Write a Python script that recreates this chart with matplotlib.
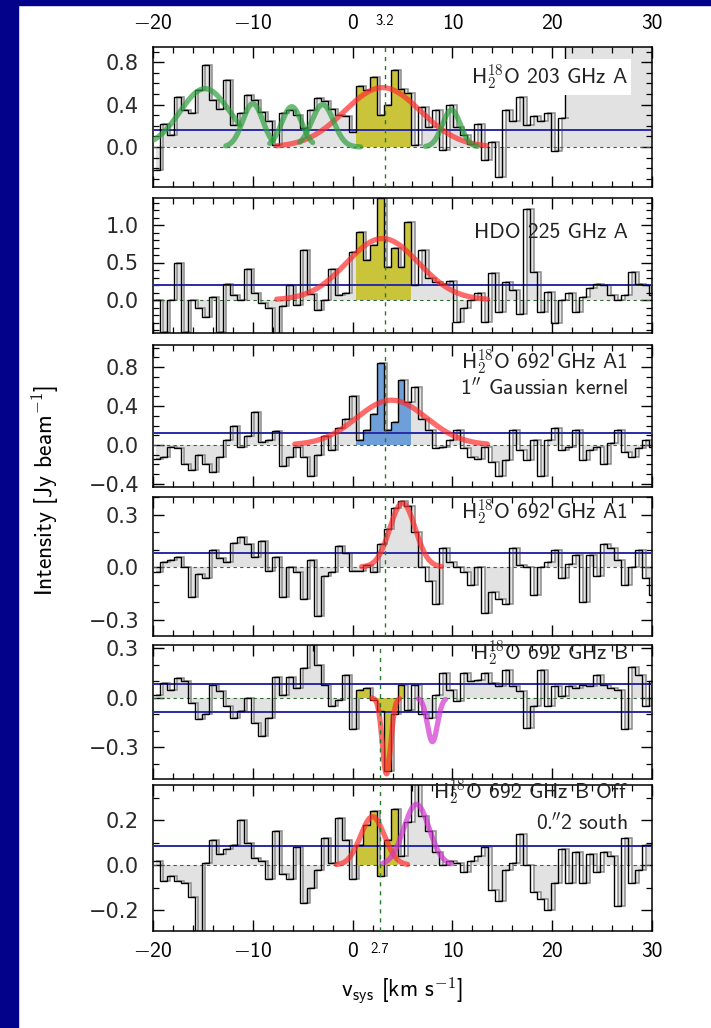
import numpy as np
import matplotlib

matplotlib.use("Agg")
import matplotlib.pyplot as plt
import matplotlib.transforms as mtransforms
from matplotlib.patches import Rectangle
from matplotlib.ticker import MultipleLocator

plt.rcParams["font.family"] = ["cmss10", "DejaVu Sans"]
plt.rcParams["mathtext.fontset"] = "cm"

# ---- spectra (Jy/beam per channel, channels start at -20 km/s) ----
V_START = -20.0
CHAN_WIDTH = 0.7

h2o_203_A = [
    -0.22, 0.22, 0.11, 0.47, 0.35, 0.32, 0.54, 0.77, 0.44, 0.36,
    0.63, 0.21, 0.32, 0.49, 0.44, 0.33, 0.25, 0.02, 0.32, 0.35,
    0.30, 0.18, 0.35, 0.46, 0.43, 0.36, 0.30, 0.29, 0.14, 0.58,
    0.54, 0.66, 0.30, 0.40, 0.73, 0.55, 0.51, 0.02, 0.38, 0.19,
    0.35, -0.03, 0.40, 0.19, 0.11, 0.03, 0.22, -0.12, 0.05, -0.28,
    0.35, 0.25, 0.47, 0.21, 0.29, 0.25, 0.32, -0.04, 0.27,
]
hdo_225_A = [
    0.0, -0.42, 0.0, 0.49, -0.42, 0.0, -0.11, -0.22, 0.04, -0.42,
    0.22, 0.07, 0.0, 0.42, 0.09, -0.04, -0.11, -0.5, -0.08, 0.2,
    -0.07, 0.67, 0.08, -0.13, 0.0, 0.42, 0.07, 0.1, 0.64, 0.91,
    0.53, 0.73, 1.36, 0.44, 0.69, 0.44, 1.04, 0.2, 0.67, 0.3,
    0.24, 0.22, 0.25, -0.29, -0.1, 0.0, 0.09, -0.29, 0.36, -0.16,
    0.24, 0.13, -0.18, 1.22, 0.38, -0.16, 0.11, -0.31, 0.0, 0.09,
    -0.16, 0.04, 0.16, 0.22, 0.2, 0.07, 0.0, 0.07, 0.38, 0.22,
    0.2, 0.07,
]
h2o_692_A1_kernel = [
    -0.14, -0.12, -0.02, -0.03, -0.19, -0.26, -0.1, -0.19, -0.28, -0.12,
    0.05, 0.2, -0.02, 0.09, 0.34, 0.03, 0.05, 0.14, -0.22, -0.12,
    -0.02, -0.12, -0.32, -0.1, 0.09, -0.05, 0.17, 0.27, 0.5, 0.05,
    0.15, 0.32, 0.84, 0.15, 0.24, 0.67, 0.44, 0.6, 0.27, 0.15,
    -0.03, -0.02, 0.05, 0.15, -0.03, -0.12, -0.14, -0.02, -0.17, -0.32,
    -0.15, 0.15, -0.05, -0.15, 0.05, -0.32, 0.05, 0.17, -0.05, -0.02,
    0.15, -0.15, -0.05, -0.02, -0.19, 0.02, 0.15, -0.07, -0.12, -0.03,
    0.05, -0.02,
]
h2o_692_A1 = [
    -0.03, 0.03, 0.04, 0.06, 0.0, -0.17, -0.04, -0.06, 0.1, 0.05,
    0.03, 0.14, 0.17, 0.13, 0.06, 0.15, -0.02, 0.06, -0.17, 0.0,
    -0.03, -0.18, 0.04, -0.28, -0.05, -0.03, 0.12, 0.08, -0.02, -0.02,
    0.01, -0.03, 0.13, 0.22, 0.34, 0.38, 0.35, 0.2, 0.0, -0.08,
    -0.21, 0.11, 0.03, 0.0, -0.03, -0.1, 0.0, -0.26, -0.14, -0.18,
    -0.21, 0.11, 0.01, 0.0, -0.16, 0.0, 0.03, 0.1, -0.06, 0.02,
    0.07, -0.2, 0.07, -0.05, 0.13, 0.11, 0.04, -0.1, 0.0, 0.1,
    -0.06, -0.16,
]
h2o_692_B = [
    0.02, 0.09, 0.05, 0.12, 0.1, -0.03, -0.13, -0.1, 0.08, 0.04,
    -0.05, -0.12, -0.08, 0.0, -0.15, -0.23, -0.12, 0.13, 0.02, 0.13,
    0.06, 0.18, 0.33, 0.2, 0.08, -0.05, -0.01, 0.14, -0.19, 0.05,
    0.06, -0.01, -0.08, -0.44, -0.1, 0.08, -0.07, 0.08, -0.1, -0.12,
    0.02, 0.15, 0.05, -0.02, 0.15, 0.1, 0.11, 0.15, 0.09, 0.07,
    0.17, 0.07, 0.04, -0.18, -0.05, 0.17, -0.05, 0.07, 0.01, 0.07,
    0.06, 0.08, 0.07, 0.14, 0.08, 0.06, 0.05, -0.19, 0.19, 0.14,
    -0.05, 0.1,
]
h2o_692_B_off = [
    0.02, -0.07, -0.05, -0.07, -0.08, -0.14, -0.33, 0.01, 0.11, 0.05,
    0.07, 0.09, 0.2, 0.1, 0.03, 0.02, -0.06, 0.15, -0.04, -0.06,
    0.08, -0.17, -0.1, -0.02, 0.12, 0.01, 0.21, 0.11, -0.06, 0.09,
    0.18, 0.24, -0.05, 0.11, 0.25, 0.04, 0.19, 0.41, 0.22, 0.15,
    0.06, 0.0, 0.02, 0.01, -0.03, 0.02, 0.04, 0.08, -0.11, -0.16,
    -0.02, 0.01, 0.14, 0.0, -0.12, -0.15, -0.2, -0.08, 0.07, -0.08,
    0.06, -0.08, 0.05, -0.03, 0.06, 0.04, -0.18, 0.12, -0.08, -0.02,
    0.09, 0.09,
]

spectra = [h2o_203_A, hdo_225_A, h2o_692_A1_kernel, h2o_692_A1, h2o_692_B, h2o_692_B_off]

panel_labels = [
    [r"H$_\mathsf{2}^\mathsf{18}$O 203 GHz A"],
    ["HDO 225 GHz A"],
    [r"H$_\mathsf{2}^\mathsf{18}$O 692 GHz A1", r"1$^{\prime\prime}$ Gaussian kernel"],
    [r"H$_\mathsf{2}^\mathsf{18}$O 692 GHz A1"],
    [r"H$_\mathsf{2}^\mathsf{18}$O 692 GHz B"],
    [r"H$_\mathsf{2}^\mathsf{18}$O 692 GHz B Off", r"0$.\!\!^{\prime\prime}$2 south"],
]

# Gaussian fits: (component, amplitude, centre, sigma, v_from, v_to)
fits = [
    [("main", 0.56, 3.0, 3.8, -7.6, 13.4),
     ("other", 0.55, -14.8, 2.5, -20.0, -11.3),
     ("other", 0.41, -10.0, 1.0, -12.7, -8.0),
     ("other", 0.38, -6.1, 1.0, -8.3, -4.0),
     ("other", 0.40, -3.0, 1.1, -5.3, 0.8),
     ("other", 0.35, 9.9, 0.9, 7.3, 12.5)],
    [("main", 0.82, 3.0, 3.6, -7.6, 13.5)],
    [("main", 0.46, 3.9, 3.5, -5.8, 13.5)],
    [("main", 0.365, 5.0, 1.27, 0.9, 8.9)],
    [("main", -0.46, 3.4, 0.42, 1.9, 4.7),
     ("second", -0.265, 8.0, 0.5, 6.6, 9.3)],
    [("main", 0.215, 2.0, 1.2, -1.6, 5.5),
     ("second", 0.27, 6.4, 1.27, 3.0, 9.9)],
]

continuum = [[0.16], [0.20], [0.12], [0.082], [0.085, -0.085], [0.085]]
line_windows = [(0.5, 5.8), (0.0, 6.0), (0.4, 6.2), None, (0.0, 4.9), (0.0, 4.2)]
window_kind = ["A", "A", "A1", None, "A", "A"]
v_lsr_line = [3.2, 3.2, 3.2, 3.2, 2.7, 2.7]
blank_top_203 = True  # upper channels of the 203 GHz spectrum are blanked

x_ticks = [-20, -10, 0, 10, 20, 30]
x_tick_labels = [r"$-$20", r"$-$10", "0", "10", "20", "30"]

# ---- layout / style ----
W, H = 711, 1028
AX_LEFT, AX_RIGHT = 153, 652
PANEL_PX = [(47, 187), (198, 333), (345, 487), (497, 636), (645, 779), (785, 931)]
YLIMS = [(-0.377, 0.943), (-0.44, 1.36), (-0.431, 1.026), (-0.394, 0.40), (-0.491, 0.321), (-0.293, 0.356)]
YTICKS = [[0.0, 0.4, 0.8], [0.0, 0.5, 1.0], [-0.4, 0.0, 0.4, 0.8], [-0.3, 0.0, 0.3], [-0.3, 0.0, 0.3], [-0.2, 0.0, 0.2]]
LABEL_Y = [[0.786], [0.748], [0.88, 0.697], [0.892], [0.94], [0.952, 0.74]]

NAVY = "#02028a"
GREY_FILL = "#e2e2e2"
GREY_EDGE = "#8a8a8a"
WINDOW_COLOURS = {"A": "#c9c43a", "A1": "#6f9fd8"}
FIT_COLOURS = {"main": "#ff2d2d", "other": "#2e9e3e", "second": "#d235d2"}
CONT_COLOUR = "#2a2aa8"
ZERO_COLOUR = "#2f6a2f"


def fmt(t):
    return f"{t:.1f}".replace("-", "\u2212")


def draw_panel(ax, idx):
    y = np.asarray(spectra[idx], dtype=float)
    edges = V_START + CHAN_WIDTH * np.arange(len(y) + 1)
    centres = 0.5 * (edges[:-1] + edges[1:])
    shifted = edges + CHAN_WIDTH / 2

    ax.stairs(y, shifted, baseline=0, fill=True, facecolor=GREY_FILL, lw=0, zorder=1)
    ax.stairs(y, shifted, baseline=None, color=GREY_EDGE, lw=1.1, zorder=2)

    win = line_windows[idx]
    if win is not None:
        inside = np.flatnonzero((centres >= win[0]) & (centres <= win[1]))
        ax.stairs(y[inside], edges[inside[0]:inside[-1] + 2], baseline=0, fill=True,
                  facecolor=WINDOW_COLOURS[window_kind[idx]], lw=0, zorder=3)

    if idx == 0 and blank_top_203:
        top = YLIMS[0][1]
        ax.fill_between([edges[-1], 30], 0, top, color=GREY_FILL, lw=0, zorder=1)
        ax.vlines(edges[-1], y[-1], top, color="black", lw=1.0, zorder=4)

    ax.axhline(0, color=ZERO_COLOUR, lw=0.8, dashes=(3, 3), zorder=3.5)
    for level in continuum[idx]:
        ax.axhline(level, color=CONT_COLOUR, lw=1.4, zorder=4)

    ax.stairs(y, edges, baseline=None, color="black", lw=1.0, zorder=5)

    for comp, amp, cen, sig, lo, hi in fits[idx]:
        vv = np.linspace(lo, hi, 300)
        ax.plot(vv, amp * np.exp(-0.5 * ((vv - cen) / sig) ** 2),
                color=FIT_COLOURS[comp], lw=3.8, alpha=0.7, zorder=6,
                solid_capstyle="round")

    ax.axvline(v_lsr_line[idx], color="#2a7a2a", lw=1.0, dashes=(3, 3.5), zorder=7)

    box = dict(facecolor="white", edgecolor="none", pad=2.5) if idx == 0 else None
    for text, yf in zip(panel_labels[idx], LABEL_Y[idx]):
        ax.text(0.952, yf, text, transform=ax.transAxes, ha="right", va="center",
                fontsize=15.5, color="#222222", bbox=box, zorder=8)


fig = plt.figure(figsize=(W / 100, H / 100), dpi=100)
fig.patches.append(Rectangle((0, 0), 18 / W, 1, transform=fig.transFigure,
                             color=NAVY, zorder=-5))
fig.patches.append(Rectangle((0, 1 - 5 / H), 1, 5 / H, transform=fig.transFigure,
                             color=NAVY, zorder=-5))

axes = []
for i, (top_px, bot_px) in enumerate(PANEL_PX):
    ax = fig.add_axes([AX_LEFT / W, 1 - bot_px / H, (AX_RIGHT - AX_LEFT) / W,
                       (bot_px - top_px) / H])
    draw_panel(ax, i)
    ax.set_xlim(-20, 30)
    ax.set_ylim(*YLIMS[i])
    ax.set_xticks(x_ticks, labels=x_tick_labels, fontsize=15.5)
    ax.xaxis.set_minor_locator(MultipleLocator(2))
    ax.set_yticks(YTICKS[i], labels=[fmt(t) for t in YTICKS[i]],
                  fontfamily="DejaVu Sans", fontsize=15, color="#2a2a2a")
    ax.yaxis.set_minor_locator(MultipleLocator(0.1))
    ax.tick_params(which="both", direction="in", top=True, right=True,
                   labelbottom=False, colors="black")
    ax.tick_params(axis="y", which="both", labelcolor="#2a2a2a", pad=10)
    ax.tick_params(which="major", length=8, width=1.0)
    ax.tick_params(which="minor", length=4.5, width=0.9)
    for sp in ax.spines.values():
        sp.set_linewidth(1.1)
    axes.append(ax)

axes[0].tick_params(axis="x", labeltop=True, pad=10)
axes[-1].tick_params(axis="x", labelbottom=True, pad=8)

top_tr = mtransforms.blended_transform_factory(axes[0].transData, axes[0].transAxes)
axes[0].annotate("3.2", xy=(v_lsr_line[0], 1.0), xycoords=top_tr, xytext=(0, 19),
                 textcoords="offset points", ha="center", va="center", fontsize=10.5)
bot_tr = mtransforms.blended_transform_factory(axes[-1].transData, axes[-1].transAxes)
axes[-1].annotate("2.7", xy=(v_lsr_line[-1], 0.0), xycoords=bot_tr, xytext=(0, -13),
                  textcoords="offset points", ha="center", va="center", fontsize=10.5)

axes[-1].set_xlabel(r"v$_\mathsf{sys}$ [km s$^{-\mathsf{1}}$]", fontsize=16.5, labelpad=10)
fig.text(45 / W, 1 - 490 / H, r"Intensity [Jy beam$^{-\mathsf{1}}$]", rotation=90,
         ha="center", va="center", fontsize=17)

fig.savefig("out.png", dpi=100)
